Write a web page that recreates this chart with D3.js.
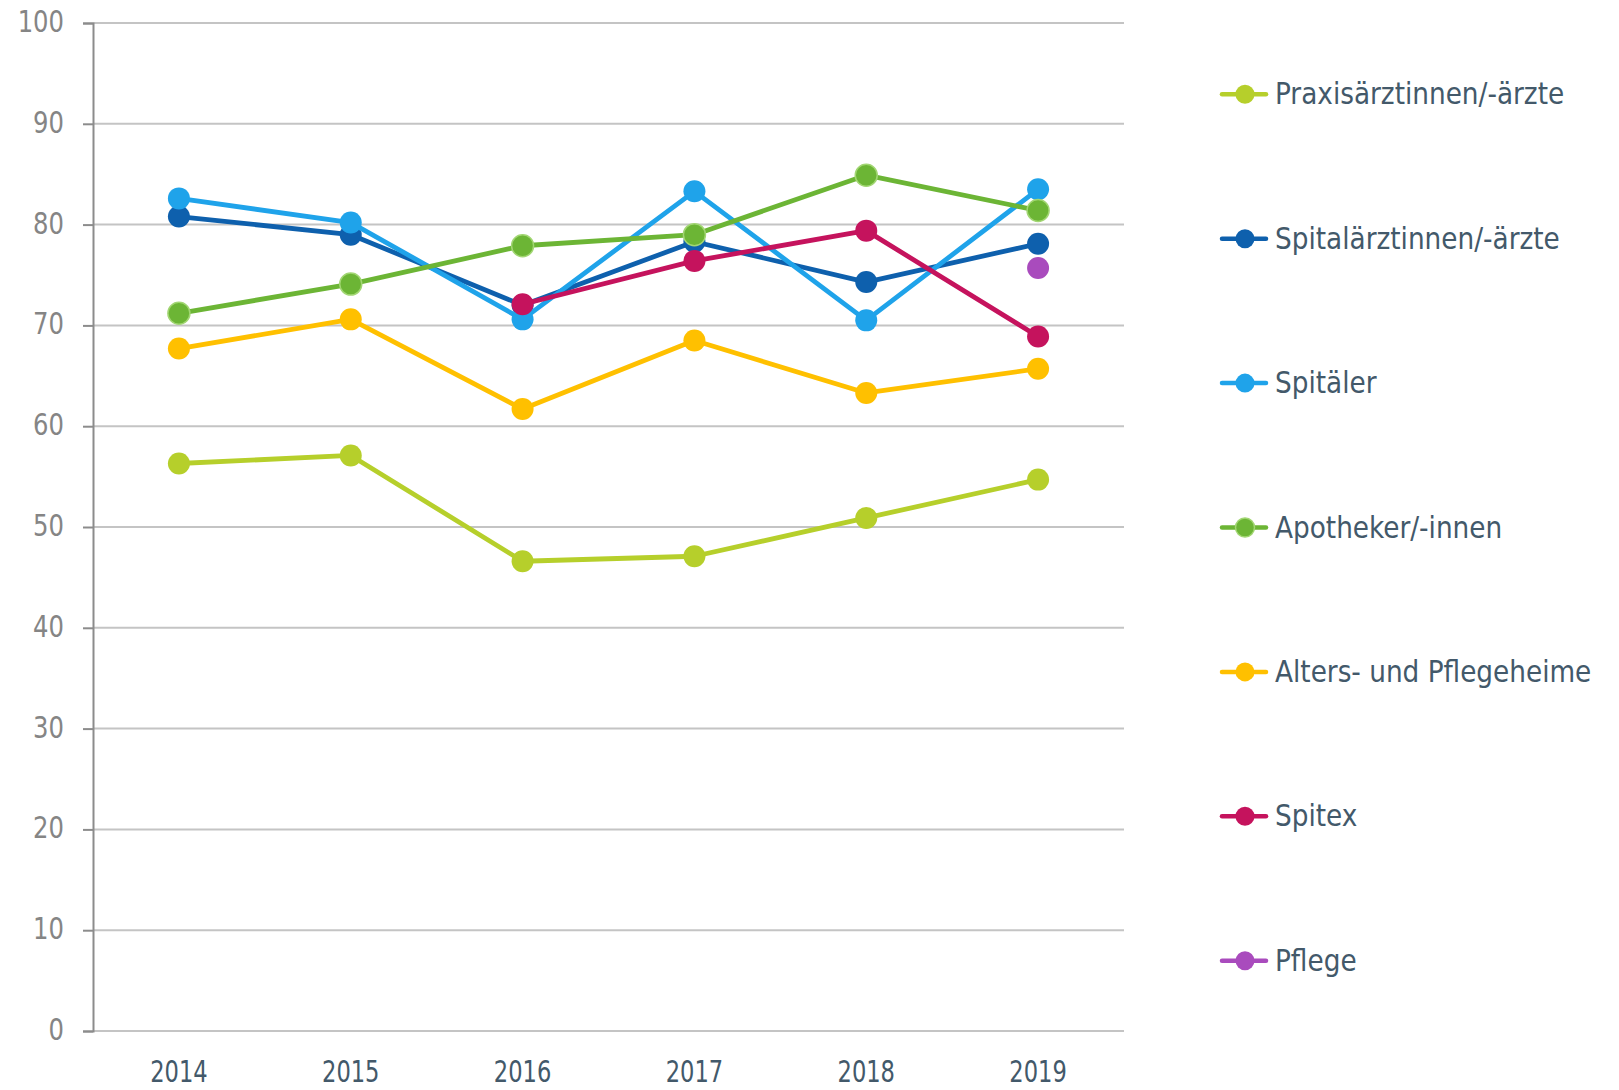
<!DOCTYPE html>
<html>
<head>
<meta charset="utf-8">
<script src="https://cdn.jsdelivr.net/npm/d3@7"></script>
<style>
  html, body { margin: 0; padding: 0; background: #fff; }
  svg text { font-family: "DejaVu Sans Condensed", "Liberation Sans Narrow", "Roboto Condensed", "Open Sans", sans-serif; font-stretch: condensed; }
</style>
</head>
<body>
<svg id="chart" width="1619" height="1090"></svg>
<script>
const years = ["2014", "2015", "2016", "2017", "2018", "2019"];
const yTicks = [0, 10, 20, 30, 40, 50, 60, 70, 80, 90, 100];

const seriesNames = ["Praxisärztinnen/-ärzte", "Spitalärztinnen/-ärzte", "Spitäler", "Apotheker/-innen", "Alters- und Pflegeheime", "Spitex", "Pflege"];
const seriesColors = ["#b6cf2b", "#0e60ad", "#1fa3ea", "#6cb535", "#ffc000", "#c5135d", "#a94bbd"];

const praxis       = [56.3, 57.1, 46.6, 47.1, 50.9, 54.7];
const spitalaerzte = [80.8, 79.0, 72.0, 78.3, 74.3, 78.1];
const spitaeler    = [82.6, 80.2, 70.6, 83.3, 70.5, 83.5];
const apotheker    = [71.2, 74.1, 77.9, 79.0, 84.9, 81.4];
const altersheime  = [67.7, 70.6, 61.7, 68.5, 63.3, 65.7];
const spitex       = [null, null, 72.1, 76.4, 79.4, 68.9];
const pflege       = [null, null, null, null, null, 75.7];

const seriesValues = [praxis, spitalaerzte, spitaeler, apotheker, altersheime, spitex, pflege];

const svg = d3.select("#chart");
const plot = { left: 93, right: 1124, top: 23, bottom: 1031 };

const x = d3.scaleBand().domain(years).range([plot.left, plot.right]).padding(0);
const y = d3.scaleLinear().domain([0, 100]).range([plot.bottom, plot.top]);
const cx = d => x(d) + x.bandwidth() / 2;

// condense text horizontally around its anchor
function squeeze(sel, sx) {
  sel.each(function () {
    const t = d3.select(this);
    const tx = +t.attr("x") || 0;
    const ty = +t.attr("y") || 0;
    t.attr("x", 0).attr("y", 0).attr("transform", `translate(${tx},${ty}) scale(${sx},1)`);
  });
}

// gridlines
svg.append("g").selectAll("line").data(yTicks).join("line")
  .attr("x1", plot.left).attr("x2", plot.right)
  .attr("y1", d => y(d)).attr("y2", d => y(d))
  .attr("stroke", "#c4c4c4").attr("stroke-width", 2);

// y axis
const yAxis = svg.append("g").attr("transform", `translate(${plot.left},0)`)
  .call(d3.axisLeft(y).tickValues(yTicks).tickSize(10).tickPadding(19).tickFormat(d3.format("d")));
yAxis.select(".domain").attr("stroke", "#8c8c8c").attr("stroke-width", 2);
yAxis.selectAll(".tick line").attr("stroke", "#8c8c8c").attr("stroke-width", 2);
yAxis.selectAll(".tick text").attr("fill", "#858585").attr("font-size", 30).attr("dy", "0.28em")
  .call(squeeze, 0.9);

// x axis labels
const xAxis = svg.append("g").attr("transform", `translate(0,${plot.bottom})`)
  .call(d3.axisBottom(x).tickSize(0).tickPadding(29));
xAxis.select(".domain").remove();
xAxis.selectAll(".tick text").attr("fill", "#43596a").attr("font-size", 31)
  .call(squeeze, 0.81);

// series
seriesValues.forEach((vals, s) => {
  const g = svg.append("g");
  const pts = vals.map((v, i) => ({ v, i })).filter(d => d.v != null);
  g.append("path").datum(vals)
    .attr("d", d3.line().defined(d => d != null).x((d, i) => cx(years[i])).y(d => y(d)))
    .attr("fill", "none").attr("stroke", seriesColors[s]).attr("stroke-width", 4.8)
    .attr("stroke-linejoin", "round");
  g.selectAll("circle").data(pts).join("circle")
    .attr("cx", d => cx(years[d.i])).attr("cy", d => y(d.v)).attr("r", 11)
    .attr("fill", seriesColors[s])
    .attr("stroke", s === 3 ? "#a2d673" : "none").attr("stroke-width", s === 3 ? 1.5 : 0);
});

// legend
const legend = svg.append("g");
const legY = d3.scalePoint().domain(seriesNames).range([94.3, 960.7]);
seriesNames.forEach((name, s) => {
  const g = legend.append("g").attr("transform", `translate(0,${legY(name)})`);
  g.append("line").attr("x1", 1222).attr("x2", 1266).attr("y1", 0).attr("y2", 0)
    .attr("stroke", seriesColors[s]).attr("stroke-width", 4.5).attr("stroke-linecap", "round");
  g.append("circle").attr("cx", 1245).attr("cy", 0).attr("r", 9.5)
    .attr("fill", seriesColors[s])
    .attr("stroke", s === 3 ? "#a2d673" : "none").attr("stroke-width", s === 3 ? 1.5 : 0);
  g.append("text").attr("x", 1275).attr("y", 0).attr("dy", "0.33em")
    .attr("fill", "#43596a").attr("font-size", 30.5).text(name)
    .call(squeeze, 0.96);
});
</script>
</body>
</html>
